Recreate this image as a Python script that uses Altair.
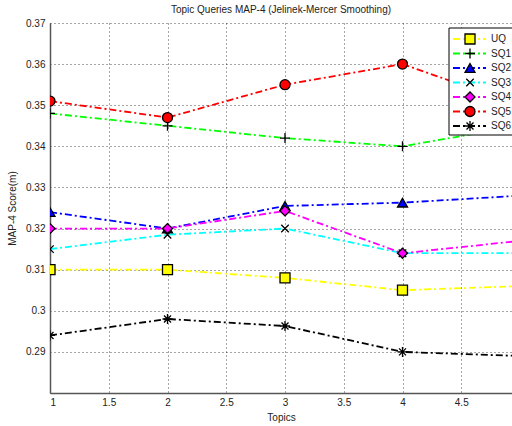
import altair as alt
import pandas as pd

# ---- data ----
topics = [1, 2, 3, 4, 5]
series = ["UQ", "SQ1", "SQ2", "SQ3", "SQ4", "SQ5", "SQ6"]
uq = [0.310, 0.310, 0.308, 0.305, 0.306]
sq1 = [0.348, 0.345, 0.342, 0.340, 0.345]
sq2 = [0.324, 0.320, 0.3255, 0.3263, 0.328]
sq3 = [0.315, 0.3185, 0.320, 0.314, 0.314]
sq4 = [0.320, 0.320, 0.3243, 0.314, 0.317]
sq5 = [0.351, 0.347, 0.355, 0.360, 0.350]
sq6 = [0.294, 0.298, 0.2963, 0.290, 0.289]
x_ticks = [1, 1.5, 2, 2.5, 3, 3.5, 4, 4.5]
y_ticks = [0.28, 0.29, 0.30, 0.31, 0.32, 0.33, 0.34, 0.35, 0.36, 0.37]

colors = ["#ffff00", "#00ff00", "#0000ff", "#00ffff", "#ff00ff", "#ff0000", "#000000"]
plus = "M-1,0L1,0M0,-1L0,1"
xmark = "M-0.75,-0.75L0.75,0.75M-0.75,0.75L0.75,-0.75"
star = "M-1,0L1,0M0,-1L0,1M-0.7,-0.7L0.7,0.7M-0.7,0.7L0.7,-0.7"
shapes = ["square", plus, "triangle-up", xmark, "diamond", "circle", star]

values = [uq, sq1, sq2, sq3, sq4, sq5, sq6]
rows = []
for name, vals in zip(series, values):
    for t, v in zip(topics, vals):
        rows.append({"series": name, "topic": t, "score": v})
df = pd.DataFrame(rows)
leg_df = pd.DataFrame({"series": series})

FONT = "Liberation Sans"
DASH = [7, 3, 2, 3]

color_scale = alt.Scale(domain=series, range=colors)
shape_scale = alt.Scale(domain=series, range=shapes)

x_enc = alt.X(
    "topic:Q",
    scale=alt.Scale(domain=[1, 1 + 462 / 117.5], nice=False, zero=False),
    axis=alt.Axis(values=x_ticks, format="~g", title="Topics", grid=True,
                  labelPadding=4, titlePadding=5, ticks=False),
)
y_enc = alt.Y(
    "score:Q",
    scale=alt.Scale(domain=[0.28, 0.37], nice=False, zero=False),
    axis=alt.Axis(values=y_ticks, format=".2~f", title="MAP-4 Score(m)", grid=True,
                  labelExpr="datum.value < 0.2805 ? '' : datum.label",
                  labelPadding=5, titlePadding=8, ticks=False),
)

lines = alt.Chart(df).mark_line(
    clip=True, strokeDash=DASH, strokeWidth=1.8, interpolate="linear"
).encode(
    x=x_enc, y=y_enc,
    color=alt.Color("series:N", scale=color_scale, legend=None),
    detail="series:N",
)

points = alt.Chart(df).mark_point(
    clip=True, filled=True, size=100, stroke="black", strokeWidth=1.3, opacity=1
).encode(
    x="topic:Q", y="score:Q",
    shape=alt.Shape("series:N", scale=shape_scale, legend=None),
    fill=alt.Fill("series:N", scale=color_scale, legend=None),
)

box = alt.Chart(pd.DataFrame({"k": [0]})).mark_rect(
    fill="white", stroke="black", strokeWidth=1
).encode(
    x=alt.value(399), x2=alt.value(470), y=alt.value(5), y2=alt.value(112)
)

leg_y = alt.Y("series:N", scale=alt.Scale(type="point", domain=series, range=[16, 103], padding=0),
              axis=None)

leg_lines = alt.Chart(leg_df).mark_rule(strokeDash=DASH, strokeWidth=1.8).encode(
    x=alt.value(403), x2=alt.value(436), y=leg_y,
    color=alt.Color("series:N", scale=color_scale, legend=None),
)
leg_pts = alt.Chart(leg_df).mark_point(
    filled=True, size=100, stroke="black", strokeWidth=1.3, opacity=1
).encode(
    x=alt.value(420), y=leg_y,
    shape=alt.Shape("series:N", scale=shape_scale, legend=None),
    fill=alt.Fill("series:N", scale=color_scale, legend=None),
)
leg_text = alt.Chart(leg_df).mark_text(
    align="left", baseline="middle", font=FONT, fontSize=10, color="#222"
).encode(
    x=alt.value(441), y=leg_y, text="series:N",
)

main = alt.layer(lines, points)
legend = alt.layer(box, leg_lines, leg_pts, leg_text)

chart = alt.layer(main, legend).resolve_scale(y="independent").properties(
    width=462, height=370,
    autosize=alt.AutoSizeParams(type="none"),
    padding={"left": 50, "top": 23, "right": 0, "bottom": 33},
    title=alt.TitleParams("Topic Queries MAP-4 (Jelinek-Mercer Smoothing)",
                          font=FONT, fontSize=10, fontWeight="normal", color="#222",
                          offset=3, anchor="middle"),
).configure_view(stroke=None).configure_axis(
    labelFont=FONT, titleFont=FONT, labelFontSize=10, titleFontSize=10,
    titleFontWeight="normal", labelColor="#222", titleColor="#222",
    domainColor="#555", domainWidth=1.5,
    gridColor="#000", gridDash=[1, 3], gridOpacity=0.7, gridWidth=1,
)

chart.save("out.html", embed_options={"renderer": "svg", "actions": False})
